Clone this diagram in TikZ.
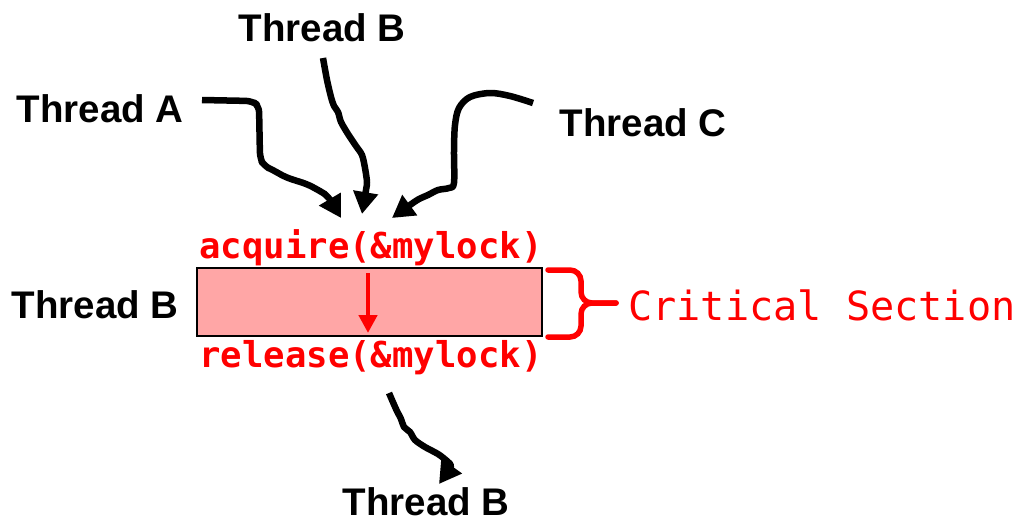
\documentclass[tikz,border=0pt]{standalone}
\usepackage{fontspec}
\setmainfont{Liberation Sans}
\newfontfamily\codefont{DejaVu Sans Mono}
\usetikzlibrary{arrows.meta}
\definecolor{boxfill}{HTML}{FFA6A6}
\tikzset{
  thr/.style={font=\fontsize{38.5}{40}\selectfont\bfseries, inner sep=0pt, anchor=base},
  code/.style={font=\codefont\fontsize{35.6}{38}\selectfont\bfseries, text=red, inner sep=0pt},
  crit/.style={font=\codefont\fontsize{40.2}{42}\selectfont, text=red, inner sep=0pt, anchor=base west},
  flow/.style={line width=6.5pt, line join=round, -{Triangle[length=22pt,width=24pt]}},
  bracepart/.style={red, line width=5.5pt, line cap=round, rounded corners=11pt},
}
\begin{document}
\begin{tikzpicture}[x=1pt,y=-1pt]
\useasboundingbox (0,0) rectangle (1017,523);
% labels
\node[thr] (tbtop) at (322,41) {Thread B};
\node[thr] (ta) at (100,122) {Thread A};
\node[thr] (tc) at (643,136) {Thread C};
\node[thr] (tbleft) at (95,318) {Thread B};
\node[thr] (tbbot) at (426,515) {Thread B};
% code
\node[code] (acq) at (371,248) {acquire(\&mylock)};
\node[code] (rel) at (371,358) {release(\&mylock)};
\node[draw=black, line width=1.5pt, fill=boxfill, minimum width=345pt, minimum height=68pt, inner sep=0pt] (cs) at (369.5,302) {};
\coordinate (ra) at (368,273);
\coordinate (rb) at (368,333);
\draw[red, line width=4.5pt, -{Triangle[length=18pt,width=18pt]}] (ra) -- (rb);
% brace
\coordinate (bt) at (548,270);
\coordinate (bb) at (548,337);
\coordinate (btip) at (616,303);
\draw[bracepart] (bt) -- (581,270) -- (581,303) -- (btip);
\draw[bracepart] (bb) -- (581,337) -- (581,303) -- (btip);
\node[crit] (crit) at (628,320) {Critical Section};
% flows
\coordinate (a0) at (202,100);
\coordinate (a1) at (341,218);
\draw[flow, rounded corners=6pt] (a0) -- (252,101) -- (259,106) -- (260,158) -- (264,166) -- (273,170) -- (285,177) -- (297,181) -- (307,184) -- (320,191) -- (328,196) -- (a1);
\coordinate (b0) at (323,58);
\coordinate (b1) at (362,214);
\draw[flow] plot[smooth, tension=0.5] coordinates {(b0) (327,80) (331,97) (334,106) (338,112) (341,122) (348,134) (356,146) (362,155) (365,168) (367,182) (366,190) (b1)};
\coordinate (c0) at (533,103);
\coordinate (c1) at (392,218);
\draw[flow] plot[smooth, tension=0.55] coordinates {(c0) (510,96) (490,93) (470,97) (459,108) (455,125) (454,150) (454,183) (449,188) (438,190) (428,195) (419,199) (410,205) (c1)};
\coordinate (d0) at (389,393);
\coordinate (d1) at (439,484);
\draw[flow] plot[smooth, tension=0.5] coordinates {(d0) (396,409) (401,419) (404,427) (410,432) (415,440) (425,447) (438,454) (447,461) (451,466) (446,474) (d1)};
\end{tikzpicture}
\end{document}
